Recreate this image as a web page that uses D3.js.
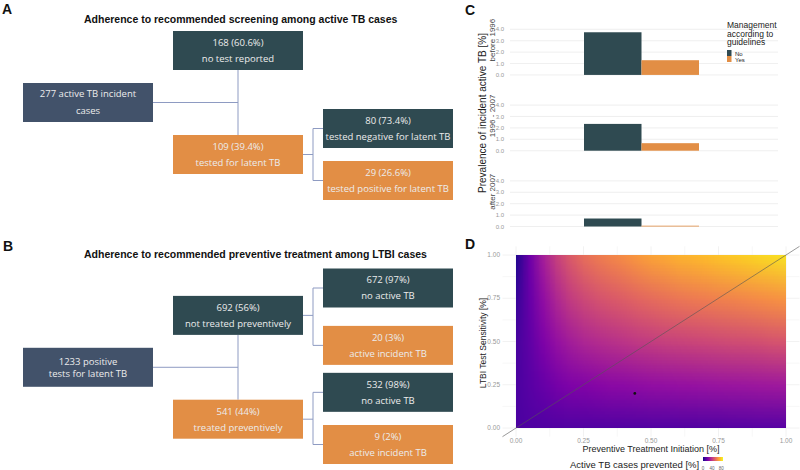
<!DOCTYPE html>
<html><head><meta charset="utf-8">
<script src="https://cdn.jsdelivr.net/npm/d3@7"></script>
<style>body{margin:0;background:#fff} svg{display:block}</style>
</head><body>
<svg id="chart" width="800" height="470"></svg>
<script>
// ================= DATA =================
// Panel A: screening flow
const aTitle = "Adherence to recommended screening among active TB cases";
const aNodes = [
  {id:"a0", parent:null, lines:["277 active TB incident","cases"], kind:"root"},
  {id:"a1", parent:"a0", lines:["168 (60.6%)","no test reported"], kind:"no"},
  {id:"a2", parent:"a0", lines:["109 (39.4%)","tested for latent TB"], kind:"yes"},
  {id:"a3", parent:"a2", lines:["80 (73.4%)","tested negative for latent TB"], kind:"no"},
  {id:"a4", parent:"a2", lines:["29 (26.6%)","tested positive for latent TB"], kind:"yes"}
];
// Panel B: preventive treatment flow
const bTitle = "Adherence to recommended preventive treatment among LTBI cases";
const bNodes = [
  {id:"b0", parent:null, lines:["1233 positive","tests for latent TB"], kind:"root"},
  {id:"b1", parent:"b0", lines:["692 (56%)","not treated preventively"], kind:"no"},
  {id:"b2", parent:"b0", lines:["541 (44%)","treated preventively"], kind:"yes"},
  {id:"b3", parent:"b1", lines:["672 (97%)","no active TB"], kind:"no"},
  {id:"b4", parent:"b1", lines:["20 (3%)","active incident TB"], kind:"yes"},
  {id:"b5", parent:"b2", lines:["532 (98%)","no active TB"], kind:"no"},
  {id:"b6", parent:"b2", lines:["9 (2%)","active incident TB"], kind:"yes"}
];
// Panel C: prevalence of incident active TB [%]
const periods = ["before 1996", "1996 - 2007", "after 2007"];
const management = ["No", "Yes"];
const prevalenceNo  = [3.74, 2.35, 0.70];
const prevalenceYes = [1.29, 0.66, 0.07];
const cTicks = [0, 1, 2, 3, 4];
// Panel D: active TB cases prevented [%] on grid
const dXGrid = [0,0.05,0.1,0.15,0.2,0.25,0.3,0.35,0.4,0.45,0.5,0.55,0.6,0.65,0.7,0.75,0.8,0.85,0.9,0.95,1];
const dYGrid = [0, 0.25, 0.5, 0.75, 1];
const preventedY000 = [11,12,12,12,12,12,12,12,12,12,12,12,12,12,12,12,12.5,12.5,13,13,13];
const preventedY025 = [11,14,17,20,22,23,24,25,25.3,26,26.5,27,27.4,27.7,28,28.4,28.7,29,29.4,29.7,30];
const preventedY050 = [10,15.4,22,27.3,31.2,33.9,35.6,36.9,38.3,39.6,40.7,41.6,42.4,43.1,43.8,44.4,45.1,45.7,46.4,47.1,47.7];
const preventedY075 = [7,16.9,26.8,34.7,40.7,44.6,47.3,49.3,51.2,53.2,54.9,56.2,57.5,58.5,59.5,60.5,61.5,62.5,63.5,64.4,65.4];
const preventedY100 = [3,18.5,31.7,42.2,50.1,55.4,58.9,61.6,64.2,66.9,69.1,70.8,72.6,73.9,75.2,76.5,77.9,79.2,80.5,81.8,83.1];
const dTicks = [0, 0.25, 0.5, 0.75, 1];
const dMinorTicks = [0.125, 0.375, 0.625, 0.875];
const currentPoint = [{x:0.44, y:0.20}];
const legendTicks = [0, 40, 80];
const legendDomain = [0, 88];

// ================= STYLE / LAYOUT =================
const FONT = "'Liberation Sans', Arial, sans-serif";
const BOXFONT = "'Open Sans', sans-serif";
const FILL = {root:"#42526a", no:"#2f4a51", yes:"#e28e45"};
const LINEC = "#8e9bc2";
const svg = d3.select("#chart");
const defs = svg.append("defs");

function panelLetter(t, x, y){
  svg.append("text").attr("x",x).attr("y",y).text(t)
    .attr("font-family",FONT).attr("font-weight","bold").attr("font-size",14).attr("fill","#111");
}
function title(t, x, y){
  svg.append("text").attr("x",x).attr("y",y).text(t)
    .attr("font-family",FONT).attr("font-weight","bold").attr("font-size",10.5).attr("fill","#111");
}

// ---------- flow diagrams ----------
const BW = 130, BH = 39;
const xLevel = d3.scaleLinear().domain([0,2]).range([23,323]);
const aLayout = {a0:{level:0,row:2,gap:17}, a1:{level:1,row:0}, a2:{level:1,row:4}, a3:{level:2,row:3}, a4:{level:2,row:5}};
const bLayout = {b0:{level:0,row:3.04,gap:12}, b1:{level:1,row:1.05}, b2:{level:1,row:5.03}, b3:{level:2,row:0}, b4:{level:2,row:2.2}, b5:{level:2,row:4}, b6:{level:2,row:6}};
const yA = d3.scaleLinear().domain([0,1]).range([50.5,76.5]);
const yB = d3.scaleLinear().domain([0,6]).range([288,444.5]);

function drawFlow(nodes, layout, yScale){
  const g = svg.append("g");
  const pos = {};
  nodes.forEach(n => {
    const L = layout[n.id];
    pos[n.id] = {x:xLevel(L.level), cy:yScale(L.row), gap:L.gap||16, level:L.level};
  });
  // connectors
  const lines = g.append("g").attr("stroke",LINEC).attr("stroke-width",1).attr("fill","none");
  nodes.filter(n => n.parent===null || nodes.some(c=>c.parent===n.id)).forEach(p => {
    const kids = nodes.filter(c => c.parent===p.id);
    if(!kids.length) return;
    const P = pos[p.id];
    const ks = kids.map(k=>pos[k.id]);
    if(P.level===0){
      const mx = ks[0].x + BW/2;
      lines.append("line").attr("x1",P.x+BW).attr("x2",mx).attr("y1",P.cy).attr("y2",P.cy);
      lines.append("line").attr("x1",mx).attr("x2",mx).attr("y1",ks[0].cy+BH/2).attr("y2",ks[ks.length-1].cy-BH/2);
    } else {
      const mx = (P.x+BW + ks[0].x)/2;
      lines.append("line").attr("x1",P.x+BW).attr("x2",mx).attr("y1",P.cy).attr("y2",P.cy);
      lines.append("line").attr("x1",mx).attr("x2",mx).attr("y1",ks[0].cy).attr("y2",ks[ks.length-1].cy);
      ks.forEach(k => lines.append("line").attr("x1",mx).attr("x2",k.x).attr("y1",k.cy).attr("y2",k.cy));
    }
  });
  // boxes
  const box = g.selectAll("g.box").data(nodes).enter().append("g");
  box.append("rect")
    .attr("x", d=>pos[d.id].x).attr("y", d=>pos[d.id].cy-BH/2)
    .attr("width",BW).attr("height",BH).attr("fill", d=>FILL[d.kind]);
  box.each(function(d){
    const P = pos[d.id];
    const sel = d3.select(this);
    d.lines.forEach((t,i) => {
      sel.append("text").text(t)
        .attr("x", P.x+BW/2)
        .attr("y", P.cy + (i-(d.lines.length-1)/2)*P.gap + 3.4)
        .attr("text-anchor","middle").attr("font-family",BOXFONT).attr("font-size",9.5)
        .attr("fill","#ececec");
    });
  });
}

panelLetter("A", 2, 14);
title(aTitle, 84, 22.5);
drawFlow(aNodes, aLayout, yA);
panelLetter("B", 3, 251);
title(bTitle, 84, 257.5);
drawFlow(bNodes, bLayout, yB);

// ---------- Panel C ----------
panelLetter("C", 465, 15);
const facet = d3.scaleBand().domain(periods).range([29.3, 226.5]).paddingInner(0.398);
const cPanelX = [510, 778];
const xC = d3.scaleBand().domain(management).range([584, 699]).paddingInner(0);
const colorC = d3.scaleOrdinal().domain(management).range([FILL.no, FILL.yes]);
const cData = periods.map((p,i)=>({period:p, values:[{m:"No",v:prevalenceNo[i]},{m:"Yes",v:prevalenceYes[i]}]}));
const gC = svg.append("g");
cData.forEach(d => {
  const y = d3.scaleLinear().domain([0,4]).range([facet(d.period)+facet.bandwidth(), facet(d.period)]);
  const fg = gC.append("g");
  fg.selectAll("line.grid").data(cTicks).enter().append("line")
    .attr("x1",cPanelX[0]).attr("x2",cPanelX[1]).attr("y1",t=>y(t)).attr("y2",t=>y(t))
    .attr("stroke","#ebebeb").attr("stroke-width",0.8);
  fg.selectAll("text.tick").data(cTicks).enter().append("text")
    .attr("x",504).attr("y",t=>y(t)).attr("dy","0.34em").attr("text-anchor","end")
    .text(t=>d3.format(".1f")(t)).attr("font-family",FONT).attr("font-size",6).attr("fill","#999");
  fg.selectAll("rect").data(d.values).enter().append("rect")
    .attr("x",v=>xC(v.m)).attr("width",xC.bandwidth())
    .attr("y",v=>y(v.v)).attr("height",v=>y(0)-y(v.v)).attr("fill",v=>colorC(v.m));
  const cy = facet(d.period)+facet.bandwidth()/2 - 12;
  fg.append("text").text(d.period)
    .attr("transform",`translate(495,${cy}) rotate(-90)`).attr("text-anchor","middle")
    .attr("font-family",FONT).attr("font-size",8).attr("fill","#444");
});
gC.append("text").text("Prevalence of incident active TB [%]")
  .attr("transform","translate(486,113) rotate(-90)").attr("text-anchor","middle")
  .attr("font-family",FONT).attr("font-size",10).attr("fill","#222");
// legend C
const lg = svg.append("g").attr("font-family",FONT).attr("fill","#222");
["Management","according to","guidelines"].forEach((t,i)=>
  lg.append("text").attr("x",727).attr("y",28+i*8.5).text(t).attr("font-size",8.5));
management.forEach((m,i)=>{
  lg.append("rect").attr("x",727).attr("y",50+i*6).attr("width",4.5).attr("height",6).attr("fill",colorC(m));
  lg.append("text").attr("x",735).attr("y",55.5+i*6.5).text(m).attr("font-size",6);
});

// ---------- Panel D ----------
panelLetter("D", 465, 249);
const xD = d3.scaleLinear().domain([0,1]).range([516,786]);
const yD = d3.scaleLinear().domain([0,1]).range([428,255]);
const color = d3.scaleSequential(d3.interpolatePlasma).domain(legendDomain);
const gD = svg.append("g");
// grid
const allT = dTicks.concat(dMinorTicks);
gD.selectAll("line.vg").data(allT).enter().append("line")
  .attr("x1",t=>xD(t)).attr("x2",t=>xD(t)).attr("y1",yD(-0.05)).attr("y2",yD(1.05))
  .attr("stroke","#efefef").attr("stroke-width",t=>dTicks.includes(t)?0.8:0.5);
gD.selectAll("line.hg").data(allT).enter().append("line")
  .attr("y1",t=>yD(t)).attr("y2",t=>yD(t)).attr("x1",xD(-0.05)).attr("x2",xD(1.05))
  .attr("stroke","#efefef").attr("stroke-width",t=>dTicks.includes(t)?0.8:0.5);
// raster
const rows = [preventedY000, preventedY025, preventedY050, preventedY075, preventedY100];
const nx = dXGrid.length, ny = dYGrid.length;
const small = document.createElement("canvas"); small.width = nx; small.height = ny;
const sctx = small.getContext("2d");
const im = sctx.createImageData(nx, ny);
for(let j=0;j<ny;j++){
  const row = rows[ny-1-j];
  for(let i=0;i<nx;i++){
    const c = d3.rgb(color(row[i])); const k=(j*nx+i)*4;
    im.data[k]=c.r; im.data[k+1]=c.g; im.data[k+2]=c.b; im.data[k+3]=255;
  }
}
sctx.putImageData(im,0,0);
const hx = (dXGrid[1]-dXGrid[0])/2, hy = (dYGrid[1]-dYGrid[0])/2;
const ix0 = xD(dXGrid[0]-hx), ix1 = xD(dXGrid[nx-1]+hx);
const iy0 = yD(dYGrid[ny-1]+hy), iy1 = yD(dYGrid[0]-hy);
const big = document.createElement("canvas");
big.width = Math.round(ix1-ix0); big.height = Math.round(iy1-iy0);
const bctx = big.getContext("2d");
bctx.imageSmoothingEnabled = true;
bctx.drawImage(small, 0, 0, big.width, big.height);
defs.append("clipPath").attr("id","rasterClip").append("rect")
  .attr("x",xD(0)).attr("y",yD(1)).attr("width",xD(1)-xD(0)).attr("height",yD(0)-yD(1));
gD.append("image").attr("href", big.toDataURL())
  .attr("x",ix0).attr("y",iy0).attr("width",ix1-ix0).attr("height",iy1-iy0)
  .attr("preserveAspectRatio","none").attr("clip-path","url(#rasterClip)");
// identity line
gD.append("line").attr("x1",xD(-0.05)).attr("y1",yD(-0.05)).attr("x2",xD(1.05)).attr("y2",yD(1.05))
  .attr("stroke","#555").attr("stroke-width",0.6);
// point
gD.selectAll("circle").data(currentPoint).enter().append("circle")
  .attr("cx",d=>xD(d.x)).attr("cy",d=>yD(d.y)).attr("r",1.4).attr("fill","#111");
// ticks
gD.selectAll("text.yt").data(dTicks).enter().append("text")
  .attr("x",500).attr("y",t=>yD(t)).attr("dy","0.34em").attr("text-anchor","end")
  .text(d3.format(".2f")).attr("font-family",FONT).attr("font-size",6.5).attr("fill","#999");
gD.selectAll("text.xt").data(dTicks).enter().append("text")
  .attr("x",t=>xD(t)).attr("y",443).attr("text-anchor","middle")
  .text(d3.format(".2f")).attr("font-family",FONT).attr("font-size",6.5).attr("fill","#999");
gD.append("text").text("LTBI Test Sensitivity [%]")
  .attr("transform","translate(486,343) rotate(-90)").attr("text-anchor","middle")
  .attr("font-family",FONT).attr("font-size",8.5).attr("fill","#222");
gD.append("text").text("Preventive Treatment Initiation [%]")
  .attr("x",651).attr("y",452).attr("text-anchor","middle")
  .attr("font-family",FONT).attr("font-size",9).attr("fill","#222");
// colour legend
gD.append("text").text("Active TB cases prevented [%]")
  .attr("x",570).attr("y",467.5).attr("font-family",FONT).attr("font-size",9.5).attr("fill","#222");
const grad = defs.append("linearGradient").attr("id","cbar");
d3.range(0,1.0001,0.1).forEach(f=>grad.append("stop").attr("offset",f)
  .attr("stop-color",color(legendDomain[0]+f*(legendDomain[1]-legendDomain[0]))));
const xL = d3.scaleLinear().domain(legendDomain).range([703,723]);
gD.append("rect").attr("x",xL(legendDomain[0])).attr("y",457).attr("width",xL(legendDomain[1])-xL(legendDomain[0]))
  .attr("height",4).attr("fill","url(#cbar)");
gD.selectAll("text.lt").data(legendTicks).enter().append("text")
  .attr("x",t=>xL(t)).attr("y",469.5).attr("text-anchor","middle").text(t=>t)
  .attr("font-family",FONT).attr("font-size",4.5).attr("fill","#666");
</script>
</body></html>
